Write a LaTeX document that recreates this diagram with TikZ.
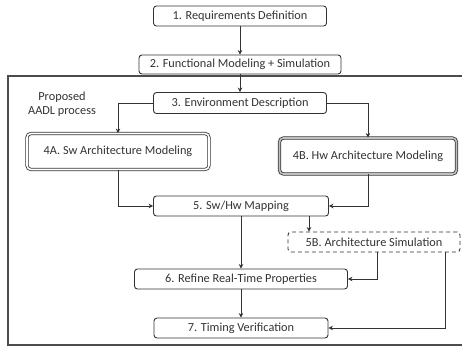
\documentclass[tikz,border=0pt]{standalone}
\usepackage{fontspec}
\setmainfont{Carlito}
\usetikzlibrary{arrows.meta}
\definecolor{ink}{HTML}{333333}
\tikzset{
  stepbox/.style={draw=ink, line width=0.9bp, rounded corners=3bp, inner sep=0pt,
    text=ink, font=\fontsize{12.3bp}{14bp}\selectfont, align=center},
  dblbox/.style={stepbox, double=white, double distance=1.6bp, line width=0.8bp, rounded corners=4bp},
  dashbox/.style={stepbox, dashed, dash pattern=on 4bp off 3bp},
  arr/.style={draw=ink, line width=0.9bp, -{Stealth[length=4.5bp,width=4.5bp]}},
  frame/.style={draw=black!70, line width=1.3bp},
}
\begin{document}
\begin{tikzpicture}[x=1bp,y=-1bp]
\useasboundingbox (0,0) rectangle (462,347);
\draw[frame] (463,76) -- (8,76) -- (8,345) -- (463,345);
\node[stepbox, minimum width=173bp, minimum height=20bp] (n1) at (240,16) {1. Requirements Definition};
\node[stepbox, minimum width=202bp, minimum height=19bp] (n2) at (240,64.5) {2. Functional Modeling + Simulation};
\node[stepbox, minimum width=173bp, minimum height=21bp] (n3) at (240,103) {3. Environment Description};
\node[font=\fontsize{12.3bp}{14bp}\selectfont, text=ink, align=center] (lbl) at (62,104) {Proposed\\AADL process};
\node[dblbox, minimum width=182bp, minimum height=36bp] (n4a) at (118,151.5) {4A. Sw Architecture Modeling};
\node[dblbox, double=black!25, minimum width=177bp, minimum height=36bp] (n4b) at (368,156) {4B. Hw Architecture Modeling};
\node[stepbox, minimum width=175bp, minimum height=20bp] (n5) at (241,206) {5. Sw/Hw Mapping};
\node[dashbox, minimum width=172bp, minimum height=20bp] (n5b) at (374,242) {5B. Architecture Simulation};
\node[stepbox, minimum width=213bp, minimum height=20bp] (n6) at (241,279) {6. Refine Real-Time Properties};
\node[stepbox, minimum width=174bp, minimum height=20bp] (n7) at (241,328) {7. Timing Verification};
\draw[arr] (n1) -- (n2);
\draw[arr] (n2) -- (n3);
\draw[arr] (n3.west) -| (n4a.north);
\draw[arr] (n3.east) -| (n4b.north);
\draw[arr] (n4a.south) |- (n5.west);
\draw[arr] (n4b.south) |- (n5.east);
\draw[arr] (n5) -- (n6);
\draw[arr] ([xshift=68bp]n5.south) -- ([xshift=68bp]n5.south |- n5b.north);
\draw[arr] ([xshift=3bp]n5b.south) |- (n6.east);
\draw[arr] ([xshift=71bp]n5b.south) |- (n7.east);
\draw[arr] (n6) -- (n7);
\end{tikzpicture}
\end{document}
